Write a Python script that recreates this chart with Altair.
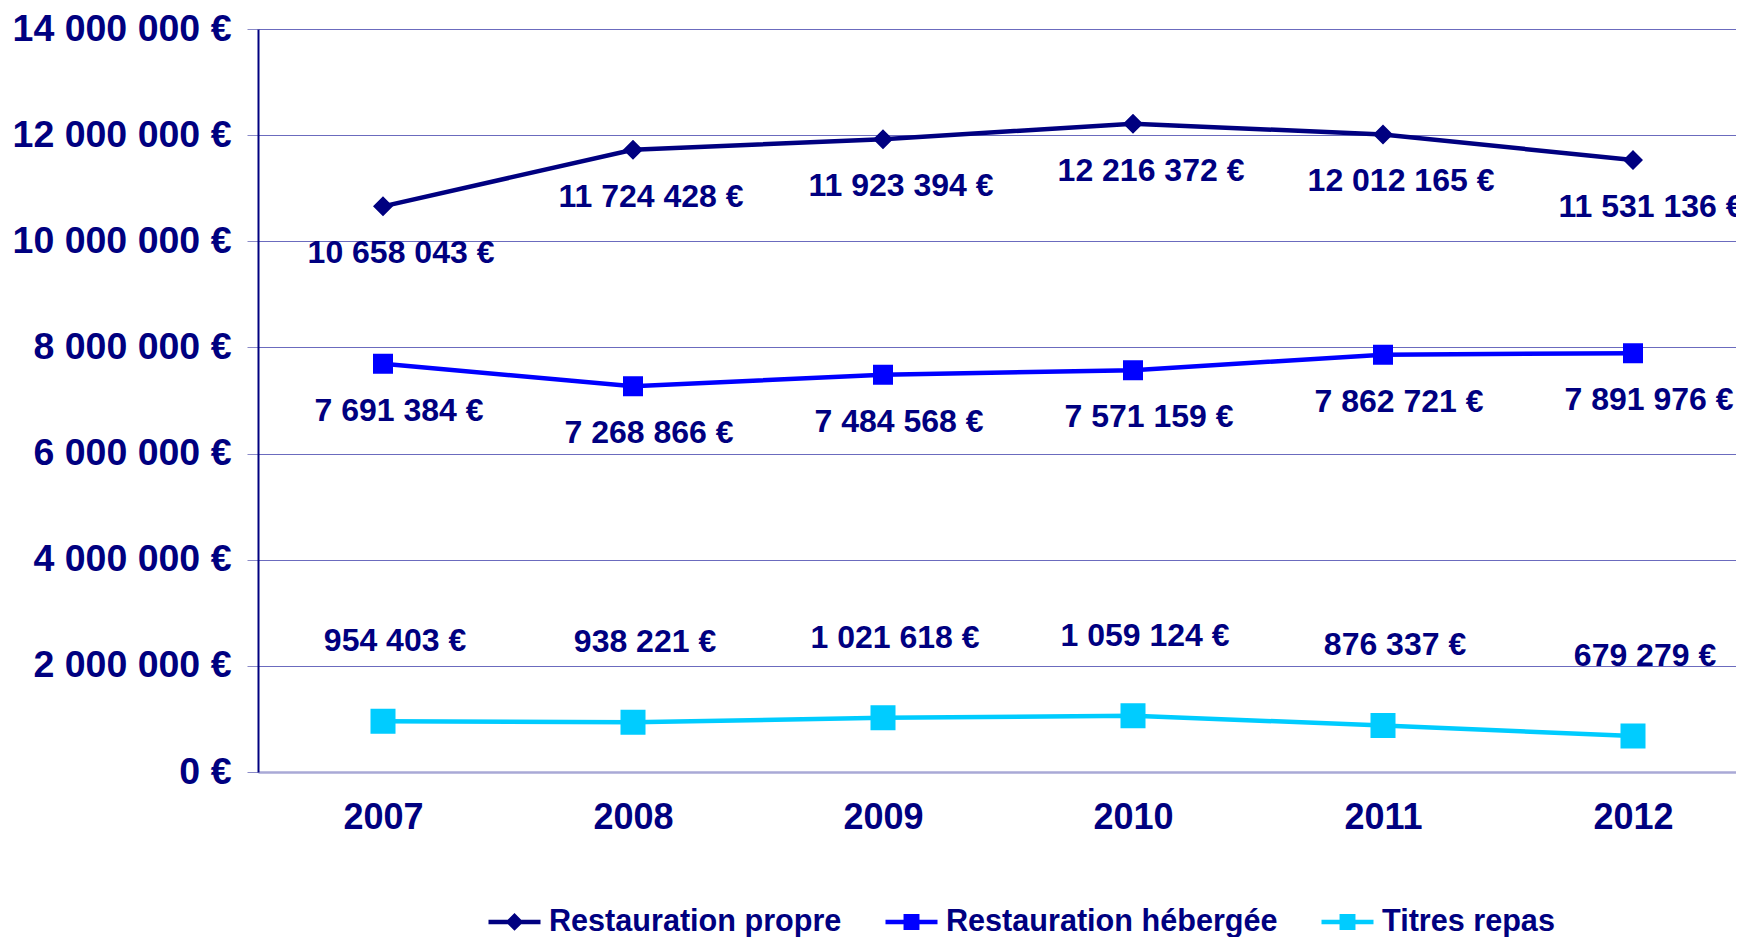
import altair as alt
import pandas as pd

years = [2007, 2008, 2009, 2010, 2011, 2012]
series_names = ["Restauration propre", "Restauration hébergée", "Titres repas"]
propre = [10658043, 11724428, 11923394, 12216372, 12012165, 11531136]
hebergee = [7691384, 7268866, 7484568, 7571159, 7862721, 7891976]
titres = [954403, 938221, 1021618, 1059124, 876337, 679279]
y_ticks = [0, 2000000, 4000000, 6000000, 8000000, 10000000, 12000000, 14000000]

colors = ["#000080", "#0000FF", "#00CCFF"]
FONT = "Liberation Sans"
NAVY = "#000080"
# marker shapes carrying a short line segment (only visible in the legend, where symbols are stroked)
DIAMOND = "M-1,0H1M-0.22,0L0,-0.22L0.22,0L0,0.22Z"
SQUARE = "M-1,0H1M-0.22,-0.22H0.22V0.22H-0.22Z"

rows = []
for name, vals in zip(series_names, [propre, hebergee, titres]):
    for yr, v in zip(years, vals):
        rows.append({"year": yr, "series": name, "value": v})
df = pd.DataFrame(rows)

x_enc = alt.X(
    "year:Q",
    scale=alt.Scale(domain=[2006.5, 2012.412], nice=False, zero=False),
    axis=alt.Axis(
        values=years, format="d", grid=False, ticks=False, domain=True,
        domainColor="#A9A9D6", domainWidth=2.5,
        labelFont=FONT, labelFontSize=36, labelFontWeight="bold", labelColor=NAVY,
        labelPadding=28, labelFlush=False, title=None,
    ),
)
y_enc = alt.Y(
    "value:Q",
    scale=alt.Scale(domain=[0, 14000000], nice=False),
    axis=alt.Axis(
        values=y_ticks, format="$,.0f", grid=True, gridColor="#6B6BBE", gridWidth=1,
        domain=True, domainColor=NAVY, domainWidth=2,
        ticks=True, tickSize=11, tickColor="#8A8AC8", tickWidth=1,
        labelFont=FONT, labelFontSize=37.5, labelFontWeight="bold", labelColor=NAVY,
        labelPadding=16, labelLimit=0, title=None,
    ),
)

legend = alt.Legend(
    orient="none", legendX=228, legendY=864, direction="horizontal", title=None,
    symbolSize=2704, symbolStrokeWidth=4, labelFont=FONT, labelFontSize=30.6,
    labelFontWeight="bold", labelColor=NAVY, columnPadding=34, labelOffset=6,
    padding=0, columns=3, labelLimit=0,
)

base = alt.Chart(df)

lines = base.mark_line().encode(
    x=x_enc, y=y_enc,
    color=alt.Color("series:N", scale=alt.Scale(domain=series_names, range=colors),
                    legend=legend, sort=series_names),
    strokeWidth=alt.StrokeWidth("series:N", scale=alt.Scale(domain=series_names, range=[4.5, 4.5, 7]), legend=None),
)

fill_enc = alt.Fill("series:N", scale=alt.Scale(domain=series_names, range=colors),
                    legend=legend, sort=series_names)
shape_enc = alt.Shape("series:N", scale=alt.Scale(domain=series_names, range=[DIAMOND, SQUARE, SQUARE]),
                      legend=legend, sort=series_names)

points_main = (
    base.transform_filter(alt.datum.series != series_names[2])
    .mark_point(filled=True, opacity=1, size=8264)
    .encode(x=x_enc, y=y_enc, fill=fill_enc, shape=shape_enc)
)
points_titres = (
    base.transform_filter(alt.datum.series == series_names[2])
    .mark_point(filled=True, opacity=1, size=12913)
    .encode(x=x_enc, y=y_enc, fill=fill_enc, shape=shape_enc)
)

label_style = dict(font=FONT, fontSize=32, fontWeight="bold", color=NAVY, align="center", baseline="middle")
offsets = {series_names[0]: (18, 47), series_names[1]: (16, 47), series_names[2]: (12, -80)}
text_layers = []
for name in series_names:
    dx, dy = offsets[name]
    text_layers.append(
        base.transform_filter(alt.datum.series == name)
        .mark_text(dx=dx, dy=dy, **label_style)
        .encode(x=x_enc, y=y_enc, text=alt.Text("value:Q", format="$,.0f"))
    )

chart = (
    alt.layer(lines, points_main, points_titres, *text_layers)
    .properties(
        width=1478, height=743,
        autosize=alt.AutoSizeParams(type="none"),
        padding={"left": 250, "top": 21, "right": 0, "bottom": 165},
    )
    .configure(locale={"number": {"decimal": ",", "thousands": " ", "grouping": [3], "currency": ["", " €"]}})
    .configure_view(stroke=None)
)

chart.save("out.html", embed_options={"renderer": "svg", "actions": False})
